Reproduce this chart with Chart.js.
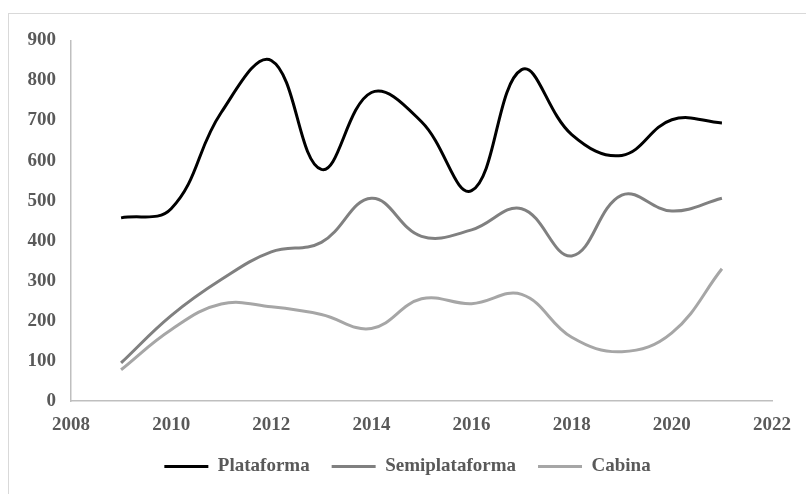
<!DOCTYPE html>
<html>
<head>
<meta charset="utf-8">
<script src="https://cdn.jsdelivr.net/npm/chart.js@4"></script>
<style>
  body { margin: 0; background: #fff; }
  #wrap {
    position: absolute; left: 8px; top: 13px;
    width: 797px; height: 480px;
    border-left: 1px solid #d9d9d9; border-top: 1px solid #d9d9d9;
  }
</style>
</head>
<body>
<div id="wrap"><canvas id="grafico" width="797" height="480"></canvas></div>
<script>
// Datos
var anos = [2009, 2010, 2011, 2012, 2013, 2014, 2015, 2016, 2017, 2018, 2019, 2020, 2021];
var plataforma = [457, 480, 720, 850, 578, 770, 697, 525, 827, 665, 613, 702, 694];
var semiplataforma = [95, 213, 303, 372, 396, 506, 411, 427, 480, 362, 514, 474, 506];
var cabina = [78, 178, 242, 235, 216, 181, 255, 243, 266, 159, 123, 170, 330];
var nombres = ['Plataforma', 'Semiplataforma', 'Cabina'];
var colores = ['#000000', '#808080', '#a6a6a6'];

function puntos(valores) {
    return anos.map(function (a, i) { return { x: a, y: valores[i] }; });
}

var fuente = { family: "'Liberation Serif', 'Times New Roman', serif", size: 19, weight: 'bold' };
var series = [plataforma, semiplataforma, cabina];

// mover la leyenda un poco a la derecha, como en el original
var moverLeyenda = {
    id: 'moverLeyenda',
    afterLayout: function (chart) {
        chart.legend.left += 17;
        chart.legend.right += 17;
    }
};

new Chart(document.getElementById('grafico').getContext('2d'), {
    type: 'line',
    data: {
        datasets: series.map(function (s, i) {
            return {
                label: nombres[i],
                data: puntos(s),
                borderColor: colores[i],
                backgroundColor: colores[i],
                borderWidth: 3,
                pointRadius: 0,
                pointStyle: 'line',
                tension: 0.4,
                fill: false
            };
        })
    },
    options: {
        responsive: false,
        animation: false,
        layout: { padding: { left: 0, right: 34, top: 24, bottom: 8 } },
        scales: {
            x: {
                type: 'linear',
                min: 2008,
                max: 2022,
                ticks: {
                    stepSize: 2, color: '#595959', font: fuente, padding: 13,
                    callback: function (v) { return String(v); }
                },
                grid: { display: false, drawTicks: false },
                border: { color: '#bfbfbf', width: 1.5 },
                afterFit: function (escala) { escala.height = 34; }
            },
            y: {
                min: 0,
                max: 900,
                ticks: { stepSize: 100, color: '#595959', font: fuente, padding: 15 },
                grid: { display: false, drawTicks: false },
                border: { color: '#bfbfbf', width: 1.5 },
                afterFit: function (escala) { escala.width = 62; }
            }
        },
        plugins: {
            legend: {
                position: 'bottom',
                labels: {
                    usePointStyle: true,
                    pointStyleWidth: 44,
                    color: '#595959',
                    font: fuente,
                    padding: 22
                }
            },
            tooltip: { enabled: false }
        }
    },
    plugins: [moverLeyenda]
});
</script>
</body>
</html>
